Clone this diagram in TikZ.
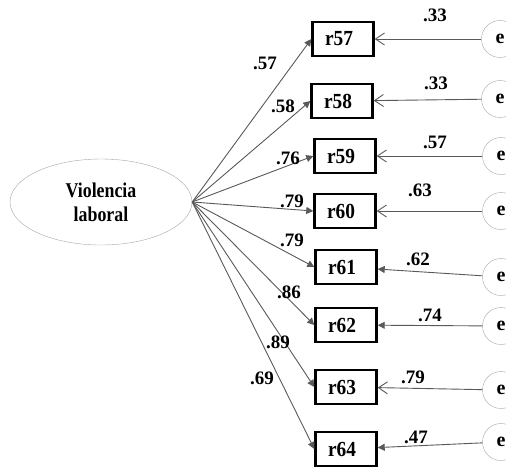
\documentclass[tikz,border=0pt]{standalone}
\usepackage{fontspec}
\setmainfont{Liberation Serif}
\usepackage{tikz}
\usetikzlibrary{shapes.geometric, arrows.meta}

\begin{document}
\begin{tikzpicture}[x=1pt, y=-1pt,
    item/.style={draw=black, line width=2.4pt, minimum width=61pt, minimum height=34pt,
        inner sep=0pt, font=\bfseries\fontsize{21.5}{23}\selectfont},
    err/.style={draw=gray!70, circle, minimum size=37pt, inner sep=0pt,
        font=\bfseries\fontsize{20}{22}\selectfont},
    wt/.style={font=\bfseries\fontsize{19}{21}\selectfont, inner sep=0pt},
    load/.style={draw=black!65, line width=0.9pt, -{Triangle[length=7pt,width=7pt]}},
    res/.style={draw=black!65, line width=0.9pt, -{Straight Barb[length=9pt,width=12pt]}},
    resf/.style={draw=black!65, line width=0.9pt, -{Triangle[length=7pt,width=7pt]}}]
    \clip (0, 0) rectangle (506, 467);
    \useasboundingbox (0, 0) rectangle (506, 467);

    % latent factor
    \node[ellipse, draw=gray!70, minimum width=182pt, minimum height=86pt, align=center,
        font=\bfseries\fontsize{21}{24}\selectfont] (vl) at (101, 202)
        {\scalebox{0.85}[1]{Violencia}\\\scalebox{0.85}[1]{laboral}};

    % items
    \node[item] (r57) at (343, 39) {\scalebox{0.9}[1]{r57}\hspace*{8pt}};
    \node[item] (r58) at (342, 101) {\scalebox{0.9}[1]{r58}\hspace*{8pt}};
    \node[item] (r59) at (345, 156) {\scalebox{0.9}[1]{r59}\hspace*{8pt}};
    \node[item] (r60) at (345, 211) {\scalebox{0.9}[1]{r60}\hspace*{8pt}};
    \node[item] (r61) at (346, 267) {\scalebox{0.9}[1]{r61}\hspace*{8pt}};
    \node[item] (r62) at (346, 325) {\scalebox{0.9}[1]{r62}\hspace*{8pt}};
    \node[item] (r63) at (346, 387) {\scalebox{0.9}[1]{r63}\hspace*{8pt}};
    \node[item] (r64) at (346, 449) {\scalebox{0.9}[1]{r64}\hspace*{8pt}};

    % errors
    \node[err] (e1) at (500, 39) {e};
    \node[err] (e2) at (500, 99) {e};
    \node[err] (e3) at (501, 156) {e};
    \node[err] (e4) at (501, 211) {e};
    \node[err] (e5) at (501, 277) {e};
    \node[err] (e6) at (501, 326) {e};
    \node[err] (e7) at (501, 390) {e};
    \node[err] (e8) at (501, 442) {e};

    % loadings
    \draw[load] (vl.east) -- (r57.west);
    \draw[load] (vl.east) -- (r58.west);
    \draw[load] (vl.east) -- (r59.west);
    \draw[load] (vl.east) -- (r60.west);
    \draw[load] (vl.east) -- (r61.west);
    \draw[load] (vl.east) -- (r62.west);
    \draw[load] (vl.east) -- (r63.west);
    \draw[load] (vl.east) -- (r64.west);
    \node[wt] (w57) at (265, 63) {.57};
    \node[wt] (w58) at (283, 106) {.58};
    \node[wt] (w59) at (288, 158) {.76};
    \node[wt] (w60) at (292, 201) {.79};
    \node[wt] (w61) at (292, 240) {.79};
    \node[wt] (w62) at (289, 292) {.86};
    \node[wt] (w63) at (278, 342) {.89};
    \node[wt] (w64) at (262, 378) {.69};

    % residual paths
    \draw[res] (e1) -- (r57);
    \draw[res] (e2) -- (r58);
    \draw[res] (e3) -- (r59);
    \draw[res] (e4) -- (r60);
    \draw[resf] (e5) -- (r61);
    \draw[resf] (e6) -- (r62);
    \draw[res] (e7) -- (r63);
    \draw[resf] (e8) -- (r64);
    \node[wt] (v57) at (435, 15) {.33};
    \node[wt] (v58) at (436, 83) {.33};
    \node[wt] (v59) at (435, 142) {.57};
    \node[wt] (v60) at (420, 190) {.63};
    \node[wt] (v61) at (418, 259) {.62};
    \node[wt] (v62) at (430, 315) {.74};
    \node[wt] (v63) at (413, 377) {.79};
    \node[wt] (v64) at (416, 437) {.47};
\end{tikzpicture}
\end{document}
